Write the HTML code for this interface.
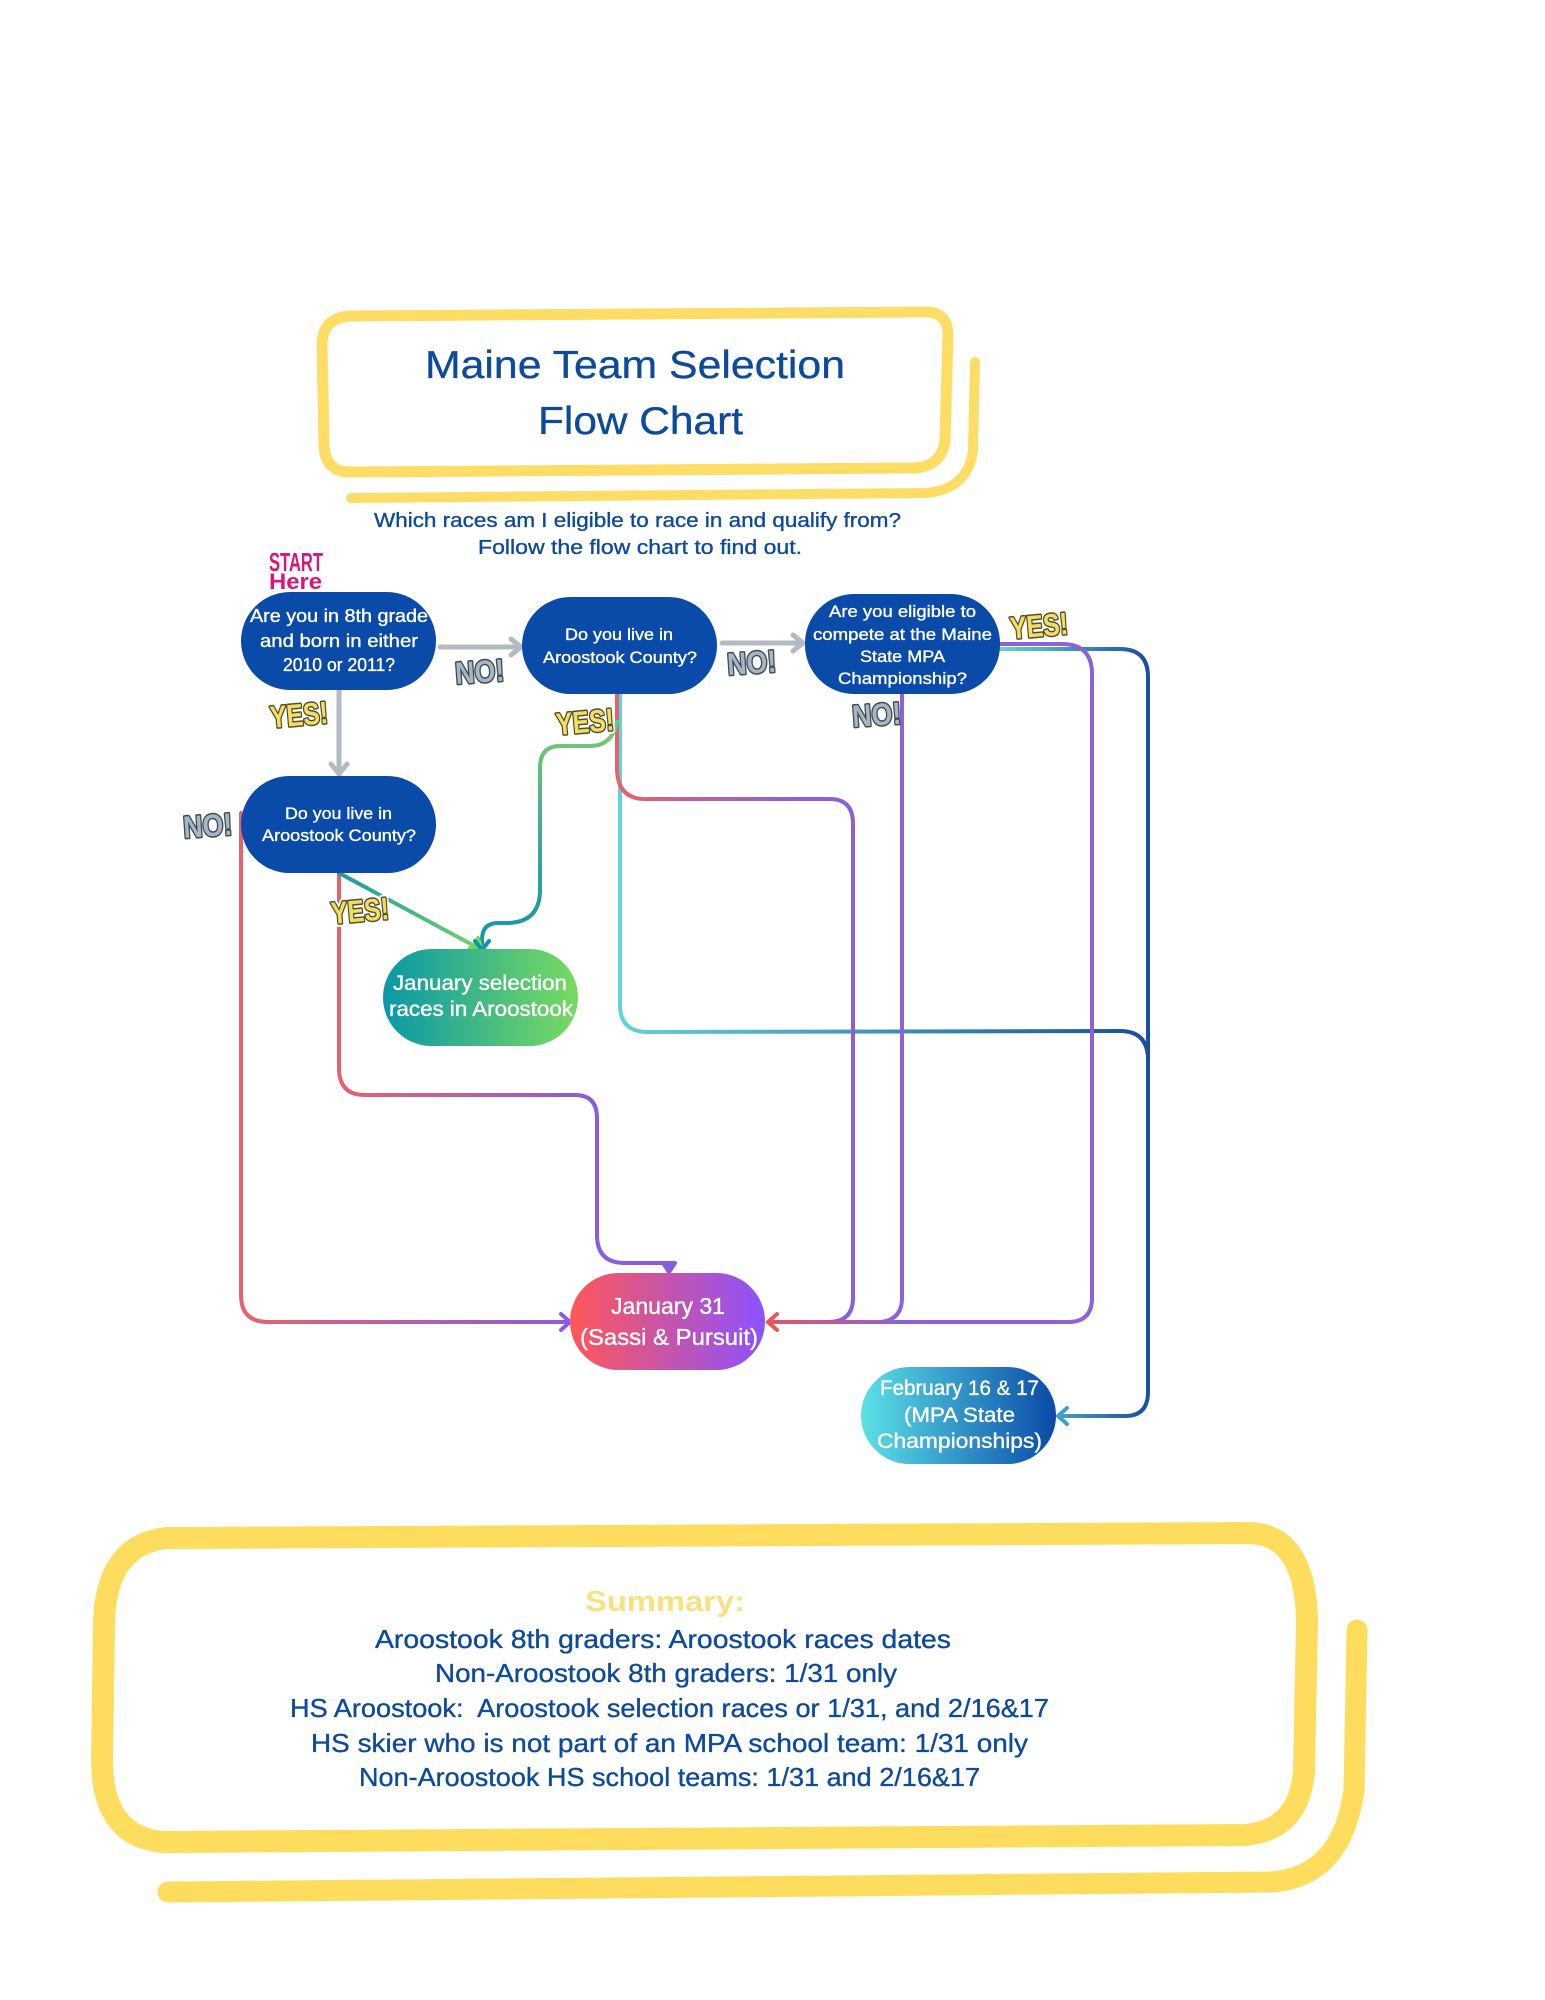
<!DOCTYPE html>
<html>
<head>
<meta charset="utf-8">
<style>
html,body{margin:0;padding:0;background:#fff;}
svg{display:block;}
text{font-family:"Liberation Sans",sans-serif;}
.w{fill:#fff;stroke:#fff;stroke-width:.35px;}
.b{fill:#0d4a9a;stroke:#0d4a9a;stroke-width:.35px;}
.l{fill:none;stroke-linecap:round;stroke-linejoin:round;}
.s{font-weight:bold;stroke-linejoin:round;}
.h{fill:#fff;stroke:#fff;stroke-width:7px;}
.y{fill:#f5dc62;stroke:#4f4f28;stroke-width:3px;paint-order:stroke;}
.n{fill:#a5b7c4;stroke:#3f4a55;stroke-width:3px;paint-order:stroke;}
</style>
</head>
<body>
<svg width="1545" height="2000" viewBox="0 0 1545 2000" xmlns="http://www.w3.org/2000/svg">
<defs>
<linearGradient id="gL" gradientUnits="userSpaceOnUse" x1="241" y1="0" x2="570" y2="0"><stop offset="0" stop-color="#e8626a"/><stop offset="1" stop-color="#8a5be0"/></linearGradient>
<linearGradient id="gM" gradientUnits="userSpaceOnUse" x1="339" y1="0" x2="600" y2="0"><stop offset="0" stop-color="#e4646c"/><stop offset="1" stop-color="#8a5bdc"/></linearGradient>
<linearGradient id="gN" gradientUnits="userSpaceOnUse" x1="617" y1="0" x2="800" y2="0"><stop offset="0" stop-color="#e4646c"/><stop offset="1" stop-color="#8c60d4"/></linearGradient>
<linearGradient id="gR" gradientUnits="userSpaceOnUse" x1="767" y1="0" x2="900" y2="0"><stop offset="0" stop-color="#e8555f"/><stop offset="1" stop-color="#8c62d6"/></linearGradient>
<linearGradient id="gC" gradientUnits="userSpaceOnUse" x1="620" y1="0" x2="1148" y2="0"><stop offset="0" stop-color="#62d4d8"/><stop offset="1" stop-color="#1a4f9c"/></linearGradient>
<linearGradient id="gY" gradientUnits="userSpaceOnUse" x1="1000" y1="0" x2="1148" y2="0"><stop offset="0" stop-color="#62d4d8"/><stop offset="1" stop-color="#1a4f9c"/></linearGradient>
<linearGradient id="gD" gradientUnits="userSpaceOnUse" x1="339" y1="873" x2="482" y2="950"><stop offset="0" stop-color="#1a9aa6"/><stop offset="1" stop-color="#74d468"/></linearGradient>
<linearGradient id="gE" gradientUnits="userSpaceOnUse" x1="0" y1="737" x2="0" y2="950"><stop offset="0" stop-color="#72c678"/><stop offset="0.5" stop-color="#3fa598"/><stop offset="1" stop-color="#0d96a8"/></linearGradient>
<linearGradient id="gS" x1="0" y1="0" x2="1" y2="0"><stop offset="0" stop-color="#0a98a8"/><stop offset="1" stop-color="#7ada60"/></linearGradient>
<linearGradient id="gJ" x1="0" y1="0" x2="1" y2="0"><stop offset="0" stop-color="#ff5757"/><stop offset="1" stop-color="#8c52ff"/></linearGradient>
<linearGradient id="gB" x1="0" y1="0" x2="1" y2="0"><stop offset="0" stop-color="#5ce1e6"/><stop offset="1" stop-color="#0a4aa8"/></linearGradient>
</defs>

<!-- title frame -->
<path class="l" stroke="#fedd66" stroke-width="11" d="M350 316 L925 312 Q948 312 948 335 L945 440 Q942 466 915 468 L350 472 Q325 472 324 445 L322 345 Q322 318 350 316 Z"/>
<path class="l" stroke="#fedd66" stroke-width="10" d="M975 362 L973 450 Q968 490 925 493 L351 498"/>
<text class="b" x="425" y="378" font-size="39" textLength="420" lengthAdjust="spacingAndGlyphs">Maine Team Selection</text>
<text class="b" x="538" y="434" font-size="39" textLength="205" lengthAdjust="spacingAndGlyphs">Flow Chart</text>
<text class="b" x="374" y="527" font-size="20" textLength="527" lengthAdjust="spacingAndGlyphs">Which races am I eligible to race in and qualify from?</text>
<text class="b" x="478" y="554" font-size="20" textLength="324" lengthAdjust="spacingAndGlyphs">Follow the flow chart to find out.</text>

<!-- connectors -->
<path class="l" stroke="#b3bbc2" stroke-width="5" d="M440 647 L519 647 M511 639 L521 647 L511 655"/>
<path class="l" stroke="#b3bbc2" stroke-width="5" d="M339 690 L339 772 M331 764 L339 774 L347 764"/>
<path class="l" stroke="#b3bbc2" stroke-width="5" d="M722 643 L801 643 M793 635 L803 643 L793 651"/>

<path class="l" stroke="url(#gL)" stroke-width="4" d="M241 813 L241 1295 Q241 1322 268 1322 L568 1322"/>
<path class="l" stroke="#8a5be0" stroke-width="4" d="M561 1314 L570 1322 L561 1330"/>
<path class="l" stroke="url(#gM)" stroke-width="4" d="M339 873 L339 1068 Q339 1095 365 1095 L575 1095 Q597 1095 597 1118 L597 1235 Q597 1263 625 1263 L668 1263"/>
<path class="l" stroke="#8a5be0" stroke-width="4" style="fill:#8a5be0" d="M663 1263 L669 1272 L675 1263 Z"/>

<path class="l" stroke="url(#gY)" stroke-width="4" d="M1000 649 L1120 649 Q1148 649 1148 677 L1148 1392 Q1148 1416 1125 1416 L1060 1416"/>
<path class="l" stroke="url(#gC)" stroke-width="4" d="M620 694 L620 1005 Q620 1032 648 1032 L1120 1031 Q1147 1031 1148 1058"/>
<path class="l" stroke="url(#gN)" stroke-width="4" d="M617 694 L617 770 Q618 799 645 799 L830 799 Q853 799 853 824 L853 1298 Q853 1322 828 1322 L769 1322"/>
<path class="l" stroke="url(#gR)" stroke-width="4" d="M902 694 L902 1298 Q902 1320 880 1322 L769 1322"/>
<path class="l" stroke="url(#gR)" stroke-width="4" d="M1000 644 L1062 644 Q1092 644 1092 674 L1092 1298 Q1092 1322 1068 1322 L769 1322"/>
<path class="l" stroke="#e8555f" stroke-width="4" d="M777 1314 L768 1322 L777 1330"/>
<path class="l" stroke="#3ea0d0" stroke-width="4" d="M1067 1408 L1058 1416 L1067 1424"/>

<path class="l" stroke="url(#gE)" stroke-width="4" d="M617 722 Q612 746 590 746 L560 746 Q540 746 540 768 L540 890 Q540 922 508 923 L498 923 Q482 923 482 940 L482 948"/>
<path class="l" stroke="url(#gD)" stroke-width="4" d="M339 873 L482 950"/>
<path class="l" stroke="#74d468" stroke-width="4" d="M470 948 L482 950 L478 938"/>
<path class="l" stroke="#0d96a8" stroke-width="4" d="M475 941 L482 950 L489 941"/>

<!-- nodes -->
<rect x="241" y="592" width="195" height="98" rx="49" fill="#0a4aa8"/>
<rect x="522" y="597" width="195" height="97" rx="48.5" fill="#0a4aa8"/>
<rect x="805" y="594" width="195" height="100" rx="49" fill="#0a4aa8"/>
<rect x="241" y="776" width="195" height="97" rx="48.5" fill="#0a4aa8"/>
<rect x="383" y="949" width="195" height="97" rx="48.5" fill="url(#gS)"/>
<rect x="570" y="1273" width="195" height="97" rx="48.5" fill="url(#gJ)"/>
<rect x="861" y="1367" width="195" height="97" rx="48.5" fill="url(#gB)"/>

<!-- node text -->
<text class="w" x="250" y="622" font-size="18" textLength="178" lengthAdjust="spacingAndGlyphs">Are you in 8th grade</text>
<text class="w" x="260" y="647" font-size="18" textLength="158" lengthAdjust="spacingAndGlyphs">and born in either</text>
<text class="w" x="283" y="671" font-size="18" textLength="112" lengthAdjust="spacingAndGlyphs">2010 or 2011?</text>
<text class="w" x="565" y="640" font-size="16.5" textLength="108" lengthAdjust="spacingAndGlyphs">Do you live in</text>
<text class="w" x="543" y="663" font-size="16.5" textLength="154" lengthAdjust="spacingAndGlyphs">Aroostook County?</text>
<text class="w" x="285" y="819" font-size="16.5" textLength="107" lengthAdjust="spacingAndGlyphs">Do you live in</text>
<text class="w" x="262" y="841" font-size="16.5" textLength="154" lengthAdjust="spacingAndGlyphs">Aroostook County?</text>
<text class="w" x="829" y="617" font-size="16.5" textLength="147" lengthAdjust="spacingAndGlyphs">Are you eligible to</text>
<text class="w" x="813" y="640" font-size="16.5" textLength="179" lengthAdjust="spacingAndGlyphs">compete at the Maine</text>
<text class="w" x="860" y="662" font-size="16.5" textLength="85" lengthAdjust="spacingAndGlyphs">State MPA</text>
<text class="w" x="838" y="684" font-size="16.5" textLength="129" lengthAdjust="spacingAndGlyphs">Championship?</text>
<text class="w" x="393" y="990" font-size="21" textLength="174" lengthAdjust="spacingAndGlyphs">January selection</text>
<text class="w" x="389" y="1016" font-size="21" textLength="184" lengthAdjust="spacingAndGlyphs">races in Aroostook</text>
<text class="w" x="611" y="1314" font-size="23" textLength="114" lengthAdjust="spacingAndGlyphs">January 31</text>
<text class="w" x="580" y="1345" font-size="23" textLength="178" lengthAdjust="spacingAndGlyphs">(Sassi &amp; Pursuit)</text>
<text class="w" x="880" y="1395" font-size="21" textLength="159" lengthAdjust="spacingAndGlyphs">February 16 &amp; 17</text>
<text class="w" x="904" y="1422" font-size="21" textLength="111" lengthAdjust="spacingAndGlyphs">(MPA State</text>
<text class="w" x="877" y="1448" font-size="21" textLength="165" lengthAdjust="spacingAndGlyphs">Championships)</text>

<!-- stickers -->
<text x="269" y="571" font-size="26" font-weight="bold" fill="#d9147a" textLength="54" lengthAdjust="spacingAndGlyphs">START</text>
<text x="269" y="589" font-size="22" font-weight="bold" fill="#d9147a" textLength="53" lengthAdjust="spacingAndGlyphs">Here</text>

<g transform="translate(271,728) rotate(-5)"><text class="s h" font-size="31" textLength="58" lengthAdjust="spacingAndGlyphs">YES!</text><text class="s y" font-size="31" textLength="58" lengthAdjust="spacingAndGlyphs">YES!</text></g>
<g transform="translate(557,735) rotate(-5)"><text class="s h" font-size="31" textLength="58" lengthAdjust="spacingAndGlyphs">YES!</text><text class="s y" font-size="31" textLength="58" lengthAdjust="spacingAndGlyphs">YES!</text></g>
<g transform="translate(332,924) rotate(-5)"><text class="s h" font-size="31" textLength="58" lengthAdjust="spacingAndGlyphs">YES!</text><text class="s y" font-size="31" textLength="58" lengthAdjust="spacingAndGlyphs">YES!</text></g>
<g transform="translate(1011,639) rotate(-5)"><text class="s h" font-size="31" textLength="58" lengthAdjust="spacingAndGlyphs">YES!</text><text class="s y" font-size="31" textLength="58" lengthAdjust="spacingAndGlyphs">YES!</text></g>

<g transform="translate(456,684) rotate(-4)"><text class="s n" font-size="31" textLength="49" lengthAdjust="spacingAndGlyphs">NO!</text></g>
<g transform="translate(728,675) rotate(-4)"><text class="s n" font-size="31" textLength="49" lengthAdjust="spacingAndGlyphs">NO!</text></g>
<g transform="translate(853,727) rotate(-4)"><text class="s n" font-size="31" textLength="49" lengthAdjust="spacingAndGlyphs">NO!</text></g>
<g transform="translate(184,838) rotate(-4)"><text class="s n" font-size="31" textLength="49" lengthAdjust="spacingAndGlyphs">NO!</text></g>

<!-- summary frame -->
<path class="l" stroke="#fedd5e" stroke-width="22" d="M166 1538 Q107 1545 104 1620 L102 1760 Q102 1838 165 1842 L1245 1835 Q1300 1830 1304 1770 L1307 1620 Q1305 1535 1250 1533 Z"/>
<path class="l" stroke="#fedd5e" stroke-width="21" d="M1357 1630 L1354 1790 Q1342 1878 1270 1882 L168 1892"/>

<text x="585" y="1611" font-size="29" font-weight="bold" fill="#f6e27e" textLength="160" lengthAdjust="spacingAndGlyphs">Summary:</text>
<text class="b" x="375" y="1648" font-size="26" textLength="576" lengthAdjust="spacingAndGlyphs">Aroostook 8th graders: Aroostook races dates</text>
<text class="b" x="435" y="1682" font-size="26" textLength="462" lengthAdjust="spacingAndGlyphs">Non-Aroostook 8th graders: 1/31 only</text>
<text class="b" x="290" y="1717" font-size="26" textLength="759" lengthAdjust="spacingAndGlyphs" xml:space="preserve">HS Aroostook:  Aroostook selection races or 1/31, and 2/16&amp;17</text>
<text class="b" x="311" y="1752" font-size="26" textLength="717" lengthAdjust="spacingAndGlyphs">HS skier who is not part of an MPA school team: 1/31 only</text>
<text class="b" x="359" y="1786" font-size="26" textLength="621" lengthAdjust="spacingAndGlyphs">Non-Aroostook HS school teams: 1/31 and 2/16&amp;17</text>
</svg>
</body>
</html>
